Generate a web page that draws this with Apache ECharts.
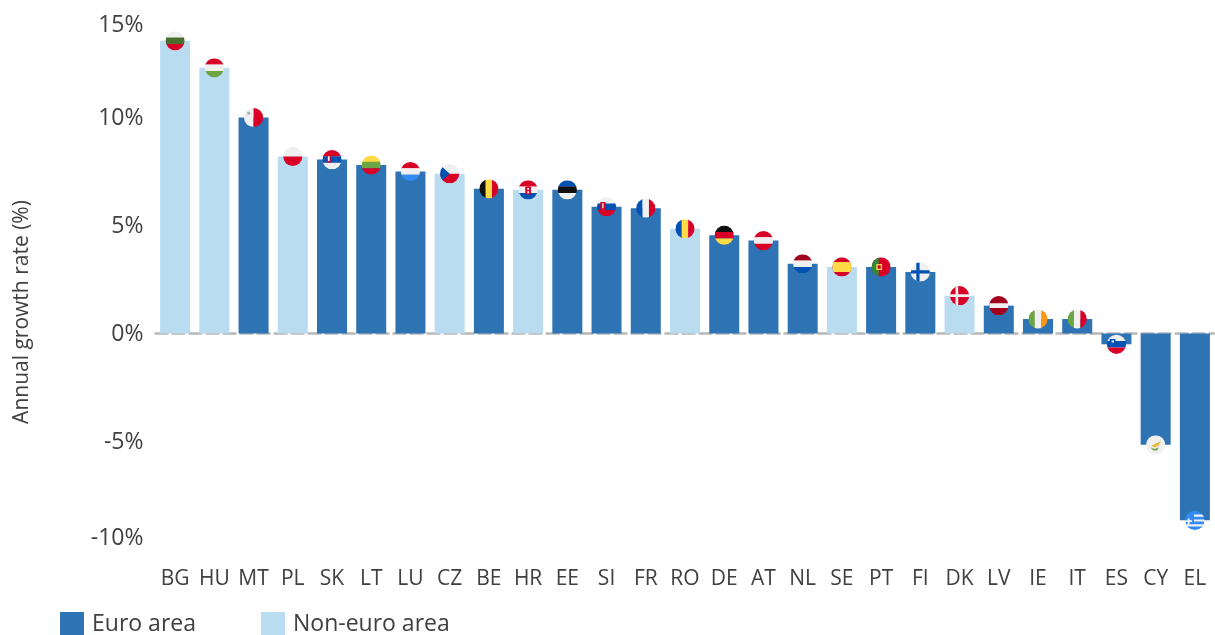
<!DOCTYPE html>
<html>
<head>
<meta charset="utf-8">
<title>Annual growth rate</title>
<script src="https://cdn.jsdelivr.net/npm/echarts@6/dist/echarts.min.js"></script>
<style>
  html, body { margin: 0; padding: 0; background: #fff; }
  #chart { width: 1215px; height: 635px; }
</style>
</head>
<body>
<div id="chart"></div>
<script>
const countries = ['BG', 'HU', 'MT', 'PL', 'SK', 'LT', 'LU', 'CZ', 'BE', 'HR', 'EE', 'SI', 'FR', 'RO',
  'DE', 'AT', 'NL', 'SE', 'PT', 'FI', 'DK', 'LV', 'IE', 'IT', 'ES', 'CY', 'EL'];
const growth = [13.55, 12.3, 10.0, 8.2, 8.05, 7.8, 7.5, 7.4, 6.7, 6.65, 6.65, 5.87, 5.8, 4.85,
  4.55, 4.3, 3.23, 3.08, 3.08, 2.85, 1.75, 1.29, 0.67, 0.67, -0.5, -5.15, -8.65];
const nonEuro = ['BG', 'HU', 'PL', 'CZ', 'HR', 'RO', 'SE', 'DK'];
const yTicks = [-10, -5, 0, 5, 10, 15];

const DARK = '#2e73b4';
const LIGHT = '#b9dcf1';
const TEXT = '#404040';
const FONT = '"Open Sans", sans-serif';

const RED = '#d80027', WHITE = '#f0f0f0', GREEN = '#6da544', BLUE = '#0052b4', YELLOW = '#ffda44',
  BLACK = '#111111', SKY = '#338af3', MAROON = '#a2001d', ORANGE = '#ff9811';

// flag pieces drawn in a -1..1 box, clipped to a circle
function hbars(a, b, c) {
  return [[a, -1, -1, 2, 0.68], [b, -1, -0.34, 2, 0.68], [c, -1, 0.33, 2, 0.68]];
}
function vbars(a, b, c) {
  return [[a, -1, -1, 0.68, 2], [b, -0.34, -1, 0.68, 2], [c, 0.33, -1, 0.68, 2]];
}
const flags = {
  BG: hbars(WHITE, '#496e2d', RED),
  HU: hbars(RED, WHITE, GREEN),
  MT: [[WHITE, -1, -1, 1, 2], [RED, 0, -1, 1, 2], ['#acabb1', -0.65, -0.6, 0.3, 0.3]],
  PL: [[WHITE, -1, -1, 2, 1], [RED, -1, 0, 2, 1]],
  SK: hbars(RED, BLUE, WHITE).concat([[RED, -0.55, -0.6, 0.42, 0.9], [WHITE, -0.43, -0.35, 0.18, 0.5]]),
  LT: hbars(YELLOW, GREEN, RED),
  LU: hbars(RED, WHITE, SKY),
  CZ: [[WHITE, -1, -1, 2, 1], [RED, -1, 0, 2, 1], [BLUE, [[-1, -0.9], [0, 0], [-1, 0.9]]]],
  BE: vbars(BLACK, YELLOW, RED),
  HR: hbars(RED, WHITE, BLUE).concat([[RED, -0.3, -0.35, 0.6, 0.8], [WHITE, -0.1, -0.2, 0.2, 0.2], [WHITE, -0.1, 0.15, 0.2, 0.2]]),
  EE: hbars(BLUE, BLACK, WHITE),
  SI: hbars(WHITE, BLUE, RED).concat([[RED, -0.65, -0.5, 0.55, 0.85], [WHITE, -0.45, -0.35, 0.14, 0.5]]),
  FR: vbars(BLUE, WHITE, RED),
  RO: vbars(BLUE, YELLOW, RED),
  DE: hbars(BLACK, RED, YELLOW),
  AT: hbars(RED, WHITE, RED),
  NL: hbars(MAROON, WHITE, BLUE),
  SE: [[RED, -1, -1, 2, 2], [YELLOW, -1, -0.52, 2, 1.04]],
  PT: [[RED, -1, -1, 2, 2], ['#2f8a3a', -1, -1, 0.75, 2], [YELLOW, -0.5, -0.32, 0.6, 0.64], [RED, -0.36, -0.18, 0.32, 0.36]],
  FI: [[WHITE, -1, -1, 2, 2], [BLUE, -0.42, -1, 0.34, 2], [BLUE, -1, -0.17, 2, 0.34]],
  DK: [[RED, -1, -1, 2, 2], [WHITE, -0.42, -1, 0.28, 2], [WHITE, -1, -0.14, 2, 0.28]],
  LV: [[MAROON, -1, -1, 2, 2], [WHITE, -1, -0.24, 2, 0.48]],
  IE: vbars(GREEN, WHITE, ORANGE),
  IT: vbars(GREEN, WHITE, RED),
  ES: hbars(WHITE, BLUE, RED).concat([[BLUE, -0.7, -0.55, 0.6, 0.5], [WHITE, -0.5, -0.4, 0.25, 0.2]]),
  CY: [[WHITE, -1, -1, 2, 2], ['#e6b93a', [[-0.45, 0.1], [0.55, -0.4], [0.3, 0.1], [-0.1, 0.3]]],
    ['#6da544', [[-0.55, 0.25], [-0.1, 0.45], [0.35, 0.25], [0.15, 0.6], [-0.25, 0.6]]]],
  EL: [[SKY, -1, -1, 2, 2], [WHITE, -0.1, -0.6, 1.2, 0.22], [WHITE, -0.1, -0.1, 1.2, 0.22], [WHITE, -1, 0.42, 2, 0.22],
    [WHITE, -0.75, -0.2, 0.2, 0.7], [WHITE, -1, -0.02, 0.7, 0.2]]
};

const FLAG_R = 9.6;

function renderFlag(params, api) {
  const pos = api.coord([api.value(0), api.value(1)]);
  const parts = flags[countries[api.value(0)]];
  return {
    type: 'group',
    x: pos[0],
    y: pos[1],
    clipPath: { type: 'circle', shape: { cx: 0, cy: 0, r: FLAG_R } },
    children: parts.map(function (p) {
      if (p.length === 2) {
        return {
          type: 'polygon',
          shape: { points: p[1].map(function (q) { return [q[0] * FLAG_R, q[1] * FLAG_R]; }) },
          style: { fill: p[0] }
        };
      }
      return {
        type: 'rect',
        shape: { x: p[1] * FLAG_R, y: p[2] * FLAG_R, width: p[3] * FLAG_R, height: p[4] * FLAG_R },
        style: { fill: p[0] }
      };
    })
  };
}

function barSeries(name, color, keep) {
  return {
    name: name,
    type: 'bar',
    stack: 'all',
    barWidth: 30,
    itemStyle: { color: color },
    data: growth.map(function (v, i) {
      return keep(countries[i]) ? v : null;
    })
  };
}

const chart = echarts.init(document.getElementById('chart'));
chart.setOption({
  animation: false,
  backgroundColor: '#fff',
  grid: { left: 155.5, right: 0.5, top: 9.5, bottom: 85.5 },
  legend: {
    left: 60,
    top: 612,
    padding: 0,
    itemWidth: 24,
    itemHeight: 24,
    itemGap: 65,
    icon: 'rect',
    textStyle: { color: TEXT, fontFamily: FONT, fontSize: 23, padding: [10, 0, 0, 3] },
    data: ['Euro area', 'Non-euro area']
  },
  xAxis: [
    {
      type: 'category',
      data: countries,
      position: 'bottom',
      axisLine: { show: false, onZero: false },
      axisTick: { show: false },
      axisLabel: { interval: 0, margin: 19, color: TEXT, fontFamily: FONT, fontSize: 21 }
    },
    {
      type: 'category',
      data: countries,
      axisLine: { onZero: true, lineStyle: { color: '#b8b8b8', width: 2.5, type: [12, 5] } },
      axisTick: { show: false },
      axisLabel: { show: false }
    }
  ],
  yAxis: {
    type: 'value',
    min: yTicks[0],
    max: yTicks[yTicks.length - 1],
    interval: 5,
    axisLine: { show: false },
    axisTick: { show: false },
    splitLine: { show: false },
    axisLabel: {
      margin: 12,
      color: TEXT,
      fontFamily: FONT,
      fontSize: 23,
      // end labels sit further inside than their tick positions
      formatter: function (v) {
        if (v === 15) return '{top|15%}';
        if (v === -10) return '{low|-10%}';
        return '{mid|' + v + '%}';
      },
      rich: {
        mid: { color: TEXT, fontFamily: FONT, fontSize: 23, padding: [2, 0, 0, 0] },
        top: { color: TEXT, fontFamily: FONT, fontSize: 23, padding: [32, 0, 0, 0] },
        low: { color: TEXT, fontFamily: FONT, fontSize: 23, padding: [0, 0, 22, 0] }
      }
    }
  },
  graphic: [{
    type: 'text',
    x: 22,
    y: 312,
    rotation: Math.PI / 2,
    style: {
      text: 'Annual growth rate (%)',
      fill: TEXT,
      font: '21px "Open Sans", sans-serif',
      align: 'center',
      verticalAlign: 'middle'
    }
  }],
  series: [
    barSeries('Euro area', DARK, function (c) { return nonEuro.indexOf(c) < 0; }),
    barSeries('Non-euro area', LIGHT, function (c) { return nonEuro.indexOf(c) >= 0; }),
    {
      type: 'custom',
      renderItem: renderFlag,
      encode: { x: 0, y: 1 },
      z: 5,
      silent: true,
      data: growth.map(function (v, i) { return [i, v]; })
    }
  ]
});
</script>
</body>
</html>
